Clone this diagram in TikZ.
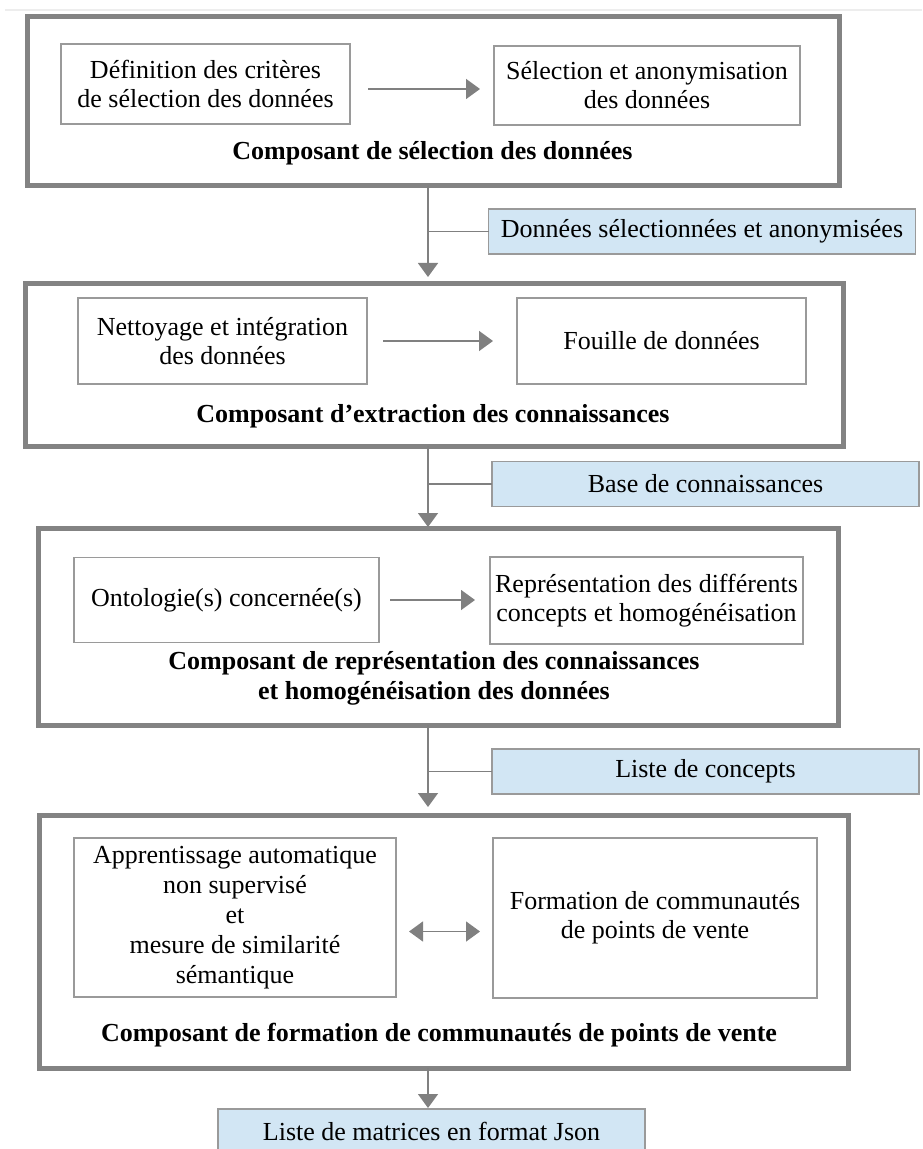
\documentclass[tikz,border=0pt]{standalone}
\usepackage{fontspec}
\setmainfont{Liberation Serif}
\usetikzlibrary{arrows.meta, positioning}
\definecolor{gcadre}{HTML}{838383}
\definecolor{gtrait}{HTML}{9A9A9A}
\definecolor{gfleche}{HTML}{808080}
\definecolor{bleudonnee}{HTML}{D2E6F4}
\tikzset{
  % grand cadre d'un composant
  composant/.style={draw=gcadre, line width=2.5pt, fill=white, inner sep=0pt, outer sep=0pt},
  % tache a l'interieur d'un composant
  tache/.style={draw=gtrait, line width=0.7pt, fill=white, align=center, inner sep=0pt,
    outer sep=0pt, font=\fontsize{13}{14.5}\selectfont},
  % titre d'un composant
  titre/.style={align=center, inner sep=0pt, font=\fontsize{13}{15}\selectfont\bfseries},
  % donnee produite entre deux composants
  donnee/.style={draw=gtrait, line width=0.7pt, fill=bleudonnee, minimum width=213.5pt,
    minimum height=22.5pt, inner sep=0pt, outer sep=0pt, font=\fontsize{13}{14.5}\selectfont},
  % fleches et liaisons
  fleche/.style={draw=gfleche, line width=0.75pt, -{Triangle[length=7pt, width=10pt]}},
  doublefleche/.style={fleche, {Triangle[length=7pt, width=10pt]}-{Triangle[length=7pt, width=10pt]}},
  liaison/.style={draw=gfleche, line width=0.75pt},
}

\begin{document}
\begin{tikzpicture}[x=0.5pt, y=-0.5pt]
  \useasboundingbox (0,0) rectangle (922,1149);
  \draw[black!7, line width=1pt] (5,10) -- (922,10);
  \coordinate (axe) at (428,0);

  % composant de selection
  \node[composant, minimum width=406pt, minimum height=84.5pt] (comp1) at (433,101.5) {};
  \node[tache, minimum width=144.5pt, minimum height=40pt] (defcrit) at (205.5,84)
    {Définition des critères\\de sélection des données};
  \node[tache, minimum width=153pt, minimum height=39.5pt] (selanon) at (647,85.5)
    {Sélection et anonymisation\\des données};
  \node[titre] (titre1) at (432.5,153) {Composant de sélection des données};
  \draw[fleche, shorten <=9pt, shorten >=7pt] ([yshift=-2.5pt]defcrit.east)
    -- ([yshift=-2.5pt]defcrit.east -| selanon.west);

  % composant d'extraction
  \node[composant, minimum width=409pt, minimum height=81pt] (comp2) at (434,365) {};
  \node[tache, minimum width=144.5pt, minimum height=43pt] (nettoy) at (222.5,341)
    {Nettoyage et intégration\\des données};
  \node[tache, minimum width=144.5pt, minimum height=43pt] (fouille) at (661.5,341)
    {Fouille de données};
  \node[titre] (titre2) at (433,416) {Composant d’extraction des connaissances};
  \draw[fleche, shorten <=8pt, shorten >=12pt] (nettoy.east) -- (fouille.west);

  % composant de representation
  \node[composant, minimum width=400pt, minimum height=98.5pt] (comp3) at (438,626.5) {};
  \node[tache, minimum width=152.5pt, minimum height=42.5pt] (onto) at (226.5,600)
    {Ontologie(s) concernée(s)};
  \node[tache, minimum width=156.5pt, minimum height=43.5pt] (repr) at (646.5,600.5)
    {Représentation des différents\\concepts et homogénéisation};
  \node[titre] (titre3) at (434,678)
    {Composant de représentation des connaissances\\et homogénéisation des données};
  \draw[fleche, shorten <=5.5pt, shorten >=7.5pt] (onto.east) -- (onto.east -| repr.west);

  % composant de formation
  \node[composant, minimum width=404.5pt, minimum height=126.5pt] (comp4) at (443.5,941.5) {};
  \node[tache, minimum width=161pt, minimum height=79.5pt, font=\fontsize{13}{15}\selectfont]
    (apprent) at (235,917.5)
    {Apprentissage automatique\\non supervisé\\et\\mesure de similarité\\sémantique};
  \node[tache, minimum width=162pt, minimum height=80pt] (formation) at (655,918)
    {Formation de communautés\\de points de vente};
  \node[titre] (titre4) at (439,1035) {Composant de formation de communautés de points de vente};
  \draw[doublefleche, shorten <=6.5pt, shorten >=6.5pt] ([yshift=-7pt]apprent.east)
    -- ([yshift=-7pt]apprent.east -| formation.west);

  % donnees echangees
  \node[donnee] (donnee1) at (702,231.5) {Données sélectionnées et anonymisées};
  \node[donnee] (donnee2) at (705.5,484) {Base de connaissances};
  \node[donnee] (donnee3) at (705.5,771.5) {Liste de concepts};
  \node[donnee] (donnee4) at (431.5,1131.5) {Liste de matrices en format Json};

  \draw[fleche, shorten >=3.5pt] (comp1.south -| axe) -- (comp2.north -| axe);
  \draw[fleche, shorten >=0.5pt] (comp2.south -| axe) -- (comp3.north -| axe);
  \draw[fleche, shorten >=4pt] (comp3.south -| axe) -- (comp4.north -| axe);
  \draw[fleche, shorten >=0.5pt] (comp4.south -| axe) -- (donnee4.north -| axe);
  \foreach \d in {donnee1, donnee2, donnee3}
    \draw[liaison] (axe |- \d.west) -- (\d.west);
\end{tikzpicture}
\end{document}
